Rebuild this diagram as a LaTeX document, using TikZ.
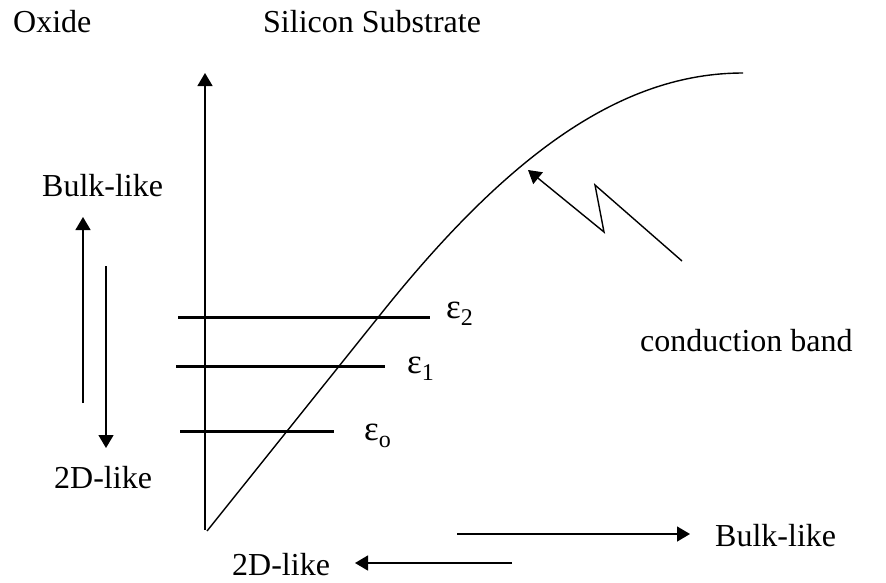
\documentclass[tikz,border=0pt]{standalone}
\usepackage{fontspec}
\setmainfont{Liberation Serif}
\usetikzlibrary{arrows.meta}

\newcommand{\lev}[1]{{\fontsize{35}{40}\selectfont ε}{\fontsize{24}{28}\selectfont\raisebox{-7pt}{#1}}}

\begin{document}
\begin{tikzpicture}[x=1pt, y=-1pt, font=\fontsize{32}{38}\selectfont,
  lbl/.style={anchor=base west, inner sep=0pt},
  arr/.style={line width=1.4pt, -{Triangle[length=13pt,width=15pt]}},
  level/.style={line width=3pt}]
  \useasboundingbox (0,0) rectangle (886,582);

  % headings
  \node[lbl] (oxide) at (13,32) {Oxide};
  \node[lbl] (si) at (263,32) {Silicon Substrate};

  % energy axis
  \coordinate (ax0) at (205,530);
  \coordinate (ax1) at (205,73);
  \draw[arr] (ax0) -- (ax1);

  % conduction band
  \coordinate (cb0) at (207,531);
  \coordinate (cb1) at (380,315);
  \coordinate (cb2) at (743,73);
  \draw[line width=1.4pt] (cb0) -- (cb1) .. controls (510,152) and (623,73) .. (cb2);

  % subband levels
  \draw[level] (178,317) -- (430,317);
  \draw[level] (176,366) -- (385,366);
  \draw[level] (180,431) -- (334,431);
  \node[lbl] (e2) at (446,318) {\lev{2}};
  \node[lbl] (e1) at (407,373) {\lev{1}};
  \node[lbl] (e0) at (364,440) {\lev{o}};

  % pointer to the band
  \node[lbl] (cbl) at (640,351) {conduction band};
  \coordinate (z0) at (682,261);
  \coordinate (z1) at (595,185);
  \coordinate (z2) at (604,232);
  \coordinate (z3) at (528,170);
  \draw[arr] (z0) -- (z1) -- (z2) -- (z3);

  % left: towards bulk / 2D
  \node[lbl] (bulkl) at (42,196) {Bulk-like};
  \node[lbl] (twodl) at (54,488) {2D-like};
  \coordinate (up0) at (83,403);
  \coordinate (up1) at (83,217);
  \coordinate (dn0) at (106,266);
  \coordinate (dn1) at (106,448);
  \draw[arr] (up0) -- (up1);
  \draw[arr] (dn0) -- (dn1);

  % bottom: towards bulk / 2D
  \node[lbl] (bulkb) at (715,546) {Bulk-like};
  \node[lbl] (twodb) at (232,575) {2D-like};
  \coordinate (rt0) at (457,534);
  \coordinate (rt1) at (690,534);
  \coordinate (lt0) at (512,563);
  \coordinate (lt1) at (355,563);
  \draw[arr] (rt0) -- (rt1);
  \draw[arr] (lt0) -- (lt1);
\end{tikzpicture}
\end{document}
